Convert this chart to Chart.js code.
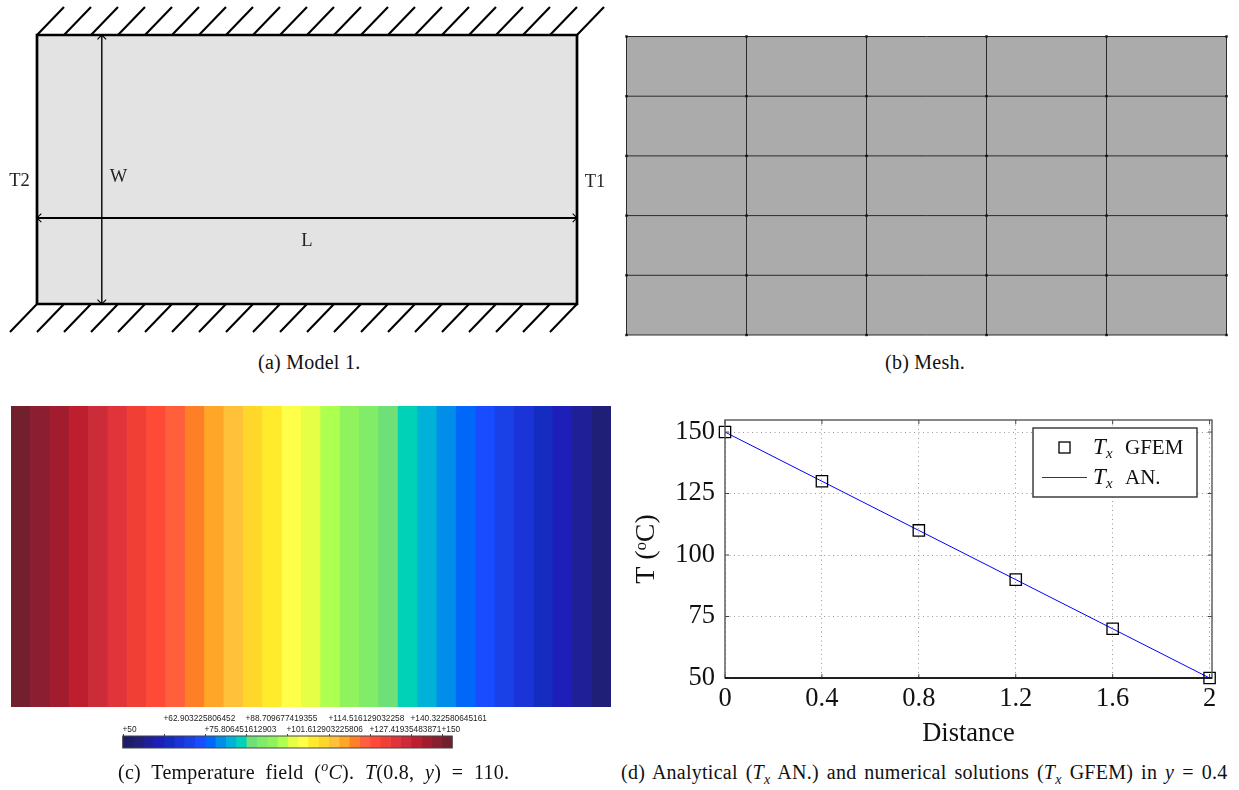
<!DOCTYPE html>
<html><head><meta charset="utf-8">
<script src="https://cdn.jsdelivr.net/npm/chart.js@4"></script>
<style>
html,body{margin:0;padding:0;background:#fff;width:1239px;height:790px;overflow:hidden}
canvas{position:absolute;display:block}
.cap{position:absolute;font-family:"Liberation Serif",serif;font-size:20px;letter-spacing:.25px;color:#111;white-space:nowrap;line-height:22px}
.cap sup,.cap sub{font-size:14px;line-height:0}
</style></head><body>
<canvas id="ca" width="620" height="350" style="left:0;top:0"></canvas>
<canvas id="cb" width="615" height="320" style="left:620px;top:25px"></canvas>
<canvas id="cc" width="600" height="301" style="left:11px;top:406px"></canvas>
<canvas id="cbar" width="400" height="52" style="left:110px;top:700px"></canvas>
<canvas id="cd" width="619" height="350" style="left:620px;top:400px"></canvas>
<div class="cap" style="left:258px;top:351px">(a) Model 1.</div>
<div class="cap" style="left:885px;top:351px">(b) Mesh.</div>
<div class="cap" style="left:118px;top:761px;word-spacing:5.5px">(c) Temperature field (<sup><i>o</i></sup><i>C</i>). <i>T</i>(0.8, <i>y</i>) = 110.</div>
<div class="cap" style="left:621px;top:761px;word-spacing:2.7px">(d) Analytical (<i>T<sub>x</sub></i> AN.) and numerical solutions (<i>T<sub>x</sub></i> GFEM) in <i>y</i> = 0.4</div>
<script>
// ---------- panel (a) model ----------
const modelL = 2, modelW = 1;
const hatchTopX = [0,0.1,0.2,0.3,0.4,0.5,0.6,0.7,0.8,0.9,1,1.1,1.2,1.3,1.4,1.5,1.6,1.7,1.8,1.9,2];
const hatchBottomX = [0,0.1,0.2,0.3,0.4,0.5,0.6,0.7,0.8,0.9,1,1.1,1.2,1.3,1.4,1.5,1.6,1.7,1.8,1.9,2];
const hatchRun = 0.1, hatchRise = 0.104;
const arrowWAt = 0.24, arrowLAt = 0.32;
const modelLabels = ['T2','W','T1','L'];
const modelLabelX = [-0.065,0.302,2.067,1.0];
const modelLabelY = [0.455,0.473,0.452,0.235];
// ---------- panel (b) mesh ----------
const meshX = [0,1,2,3,4,5];
const meshY = [0,1,2,3,4,5];
// ---------- panel (c) temperature field ----------
const bandLow = [50,53.23,56.45,59.68,62.9,66.13,69.35,72.58,75.81,79.03,82.26,85.48,88.71,91.94,95.16,98.39,101.61,104.84,108.06,111.29,114.52,117.74,120.97,124.19,127.42,130.65,133.87,137.1,140.32,143.55,146.77];
const bandHigh = [53.23,56.45,59.68,62.9,66.13,69.35,72.58,75.81,79.03,82.26,85.48,88.71,91.94,95.16,98.39,101.61,104.84,108.06,111.29,114.52,117.74,120.97,124.19,127.42,130.65,133.87,137.1,140.32,143.55,146.77,150];
const bandColors = ['#1f1f78','#1f1f98','#1e1eb8','#142cc0','#1a34d8','#1a40e8','#1a4cff','#0068f8','#008ee8','#00b2d8','#00d2b8','#6fdf78','#80ec68','#90f25c','#adff50','#e4ff45','#ffff4a','#ffeb2b','#ffd72b','#ffc03a','#ffa629','#ff7f27','#ff5f3c','#fe4a36','#f04035','#e0343a','#cc2b38','#bd1f2f','#a11c2e','#8b1e30','#721f2e'];
const barLow = [50,53.23,56.45,59.68,62.9,66.13,69.35,72.58,75.81,79.03,82.26,85.48,88.71,91.94,95.16,98.39,101.61,104.84,108.06,111.29,114.52,117.74,120.97,124.19,127.42,130.65,133.87,137.1,140.32,143.55,146.77,150];
const barHigh = [53.23,56.45,59.68,62.9,66.13,69.35,72.58,75.81,79.03,82.26,85.48,88.71,91.94,95.16,98.39,101.61,104.84,108.06,111.29,114.52,117.74,120.97,124.19,127.42,130.65,133.87,137.1,140.32,143.55,146.77,150,153.23];
const barColors = ['#1c1c68','#1f1f78','#1f1f98','#1e1eb8','#142cc0','#1a34d8','#1a40e8','#1a4cff','#0068f8','#008ee8','#00b2d8','#00d2b8','#6fdf78','#80ec68','#90f25c','#adff50','#e4ff45','#ffff4a','#ffeb2b','#ffd72b','#ffc03a','#ffa629','#ff7f27','#ff5f3c','#fe4a36','#f04035','#e0343a','#cc2b38','#bd1f2f','#a11c2e','#8b1e30','#721f2e'];
const barTickValues = [50,62.903225806452,75.806451612903,88.709677419355,101.612903225806,114.516129032258,127.41935483871,140.322580645161,150];
const barTickLabels = ['+50','+62.903225806452','+75.806451612903','+88.709677419355','+101.612903225806','+114.516129032258','+127.41935483871','+140.322580645161','+150'];
const barTickRow = [1,0,1,0,1,0,1,0,1];
// ---------- panel (d) profile ----------
const distance = [0,0.4,0.8,1.2,1.6,2];
const tempGFEM = [150,130,110,90,70,50];
const tempAN = [150,130,110,90,70,50];
const xTicks = [0,0.4,0.8,1.2,1.6,2];
const yTicks = [50,75,100,125,150];

Chart.defaults.animation = false;
const base = {responsive:false, animation:false, events:[], plugins:{legend:{display:false},tooltip:{enabled:false},title:{display:false}}};
const SER = '"Liberation Serif",serif';
function segs(list){const o=[];list.forEach(s=>{o.push({x:s[0],y:s[1]},{x:s[2],y:s[3]},{x:NaN,y:NaN});});return o;}

// (a)
const lineDs = (data,w,extra)=>Object.assign({data,borderColor:'#000',borderWidth:w,pointRadius:0,showLine:true,clip:false,spanGaps:false,tension:0},extra||{});
const ahx=0.016, ahy=0.016;
new Chart(document.getElementById('ca'),{type:'scatter',
 data:{datasets:[
  lineDs(segs(hatchTopX.map(x=>[x+hatchRun,modelW+hatchRise,x,modelW])),2.1),
  lineDs(segs(hatchBottomX.map(x=>[x,0,x-hatchRun,-hatchRise])),2.1),
  lineDs([{x:0,y:0},{x:modelL,y:0},{x:modelL,y:modelW},{x:0,y:modelW},{x:0,y:0}],2.7),
  lineDs([{x:arrowWAt,y:0},{x:arrowWAt,y:modelW}],1.4),
  lineDs(segs([[arrowWAt-ahx,modelW-ahy,arrowWAt,modelW],[arrowWAt,modelW,arrowWAt+ahx,modelW-ahy],[arrowWAt-ahx,ahy,arrowWAt,0],[arrowWAt,0,arrowWAt+ahx,ahy]]),1.1),
  lineDs([{x:0,y:arrowLAt},{x:modelL,y:arrowLAt}],2),
  lineDs(segs([[ahx,arrowLAt+ahy,0,arrowLAt],[0,arrowLAt,ahx,arrowLAt-ahy],[modelL-ahx,arrowLAt+ahy,modelL,arrowLAt],[modelL,arrowLAt,modelL-ahx,arrowLAt-ahy]]),1.1),
  lineDs([{x:0,y:modelW},{x:modelL,y:modelW}],0,{fill:'origin',backgroundColor:'#e3e3e3',borderColor:'rgba(0,0,0,0)'})
 ]},
 options:Object.assign({},base,{layout:{padding:{left:37,right:43,top:35,bottom:46}},
  scales:{x:{type:'linear',min:0,max:modelL,display:false},y:{type:'linear',min:0,max:modelW,display:false}}}),
 plugins:[{id:'modelText',afterDraw(c){const g=c.ctx;g.save();g.font='18.5px '+SER;g.fillStyle='#222';g.textAlign='center';g.textBaseline='middle';
  modelLabels.forEach((t,i)=>g.fillText(t,c.scales.x.getPixelForValue(modelLabelX[i]),c.scales.y.getPixelForValue(modelLabelY[i])));g.restore();}}]
});

// (b)
const meshLines=[];meshX.forEach(x=>meshLines.push([x,0,x,5]));
const meshLinesH=[];meshY.forEach(y=>meshLinesH.push([0,y,5,y]));
const nodes=[];meshX.forEach(x=>meshY.forEach(y=>nodes.push({x,y})));
new Chart(document.getElementById('cb'),{type:'scatter',
 data:{datasets:[
  {data:nodes,pointStyle:'rect',pointRadius:1.7,pointBackgroundColor:'#111',pointBorderWidth:0,showLine:false,clip:false},
  lineDs(segs(meshLines),1,{borderColor:'#2c2c2c'}),
  lineDs(segs(meshLinesH),1,{borderColor:'#2c2c2c'}),
  lineDs([{x:0,y:5},{x:5,y:5}],0,{fill:'origin',backgroundColor:'#ababab',borderColor:'rgba(0,0,0,0)'})
 ]},
 options:Object.assign({},base,{layout:{padding:{left:6.5,right:8.5,top:11.5,bottom:10}},
  scales:{x:{type:'linear',min:0,max:5,display:false},y:{type:'linear',min:0,max:5,display:false}}})
});

// (c) field + colour bar
const bandDs=(lo,hi,col)=>lo.map((v,i)=>({data:[[v,hi[i]]],backgroundColor:col[i],grouped:false,borderWidth:0,barPercentage:1,categoryPercentage:1,borderSkipped:false}));
new Chart(document.getElementById('cc'),{type:'bar',
 data:{labels:['T'],datasets:bandDs(bandLow,bandHigh,bandColors)},
 options:Object.assign({},base,{indexAxis:'y',layout:{padding:0},
  scales:{x:{type:'linear',min:50,max:150,reverse:true,display:false},y:{display:false}}})
});
new Chart(document.getElementById('cbar'),{type:'bar',
 data:{labels:['T'],datasets:bandDs(barLow,barHigh,barColors)},
 options:Object.assign({},base,{indexAxis:'y',layout:{padding:{left:12.7,right:57.7,top:36,bottom:4}},
  scales:{x:{type:'linear',min:50,max:153.23,display:false},y:{display:false}}}),
 plugins:[{id:'barTicks',afterDraw(c){const g=c.ctx,a=c.chartArea;g.save();g.strokeStyle='#444';g.lineWidth=1;
   g.strokeRect(a.left,a.top,a.right-a.left,a.bottom-a.top);
   g.font='8.3px "Liberation Sans",sans-serif';g.fillStyle='#222';g.textAlign='left';g.textBaseline='middle';
   barTickValues.forEach((v,i)=>{const px=Math.round(c.scales.x.getPixelForValue(v))+0.5;
     g.beginPath();g.moveTo(px,a.top);g.lineTo(px,a.top-2);g.stroke();
     g.fillText(barTickLabels[i],px-1,barTickRow[i]?30:18.5);});g.restore();}}]
});

// (d)
const pts=(xs,ys)=>xs.map((x,i)=>({x,y:ys[i]}));
new Chart(document.getElementById('cd'),{type:'scatter',
 data:{datasets:[
  {label:'Tx GFEM',data:pts(distance,tempGFEM),pointStyle:'rect',pointRadius:8,pointBorderWidth:1.3,pointBorderColor:'#000',pointBackgroundColor:'rgba(0,0,0,0)',showLine:false,clip:false},
  {label:'Tx AN.',data:pts(distance,tempAN),borderColor:'#0000ff',borderWidth:1,pointRadius:0,showLine:true,clip:false}
 ]},
 options:Object.assign({},base,{layout:{padding:{left:0,right:27,top:20,bottom:0}},
  scales:{
   x:{type:'linear',min:0,max:2.01,afterBuildTicks(s){s.ticks=xTicks.map(v=>({value:v}));},afterFit(s){s.height=72;s.paddingLeft=0;s.paddingRight=0;},
      grid:{color:'#999',lineWidth:1,drawTicks:false},border:{display:false,dash:[1,3.5]},
      ticks:{color:'#111',padding:5,maxRotation:0,font:{family:SER,size:26.5},callback:v=>String(v)},
      title:{display:true,text:'Distance',color:'#111',font:{family:SER,size:26.5},padding:{top:4,bottom:0}}},
   y:{type:'linear',min:50,max:154.9,afterBuildTicks(s){s.ticks=yTicks.map(v=>({value:v}));},afterFit(s){s.width=105;s.paddingTop=0;s.paddingBottom=0;},
      grid:{color:'#999',lineWidth:1,drawTicks:false},border:{display:false,dash:[1,3.5]},
      ticks:{color:'#111',padding:10,font:{family:SER,size:26.5},callback:v=>String(v)},
      title:{display:true,text:'T (ᵒC)',color:'#111',font:{family:SER,size:28},padding:{top:10,bottom:0}}}
  }}),
 plugins:[{id:'frame',afterDatasetsDraw(c){const g=c.ctx,a=c.chartArea,sx=c.scales.x,sy=c.scales.y;g.save();g.lineWidth=1;g.strokeStyle='#444';
    xTicks.forEach(v=>{const p=sx.getPixelForValue(v);g.beginPath();g.moveTo(p,a.bottom);g.lineTo(p,a.bottom-4);g.moveTo(p,a.top);g.lineTo(p,a.top+4);g.stroke();});
    yTicks.forEach(v=>{const p=sy.getPixelForValue(v);g.beginPath();g.moveTo(a.left,p);g.lineTo(a.left+4,p);g.moveTo(a.right,p);g.lineTo(a.right-4,p);g.stroke();});
    g.lineWidth=1.4;g.strokeStyle='#555';g.strokeRect(a.left,a.top,a.right-a.left,a.bottom-a.top);
    g.strokeStyle='#000';g.beginPath();g.moveTo(a.left,a.bottom);g.lineTo(a.right,a.bottom);g.stroke();
    g.restore();},
  afterDraw(c){const g=c.ctx;g.save();
    const bx=413,by=28,bw=164,bh=69;g.fillStyle='#fff';g.fillRect(bx,by,bw,bh);g.lineWidth=1.4;g.strokeStyle='#333';g.strokeRect(bx,by,bw,bh);
    g.lineWidth=1.3;g.strokeStyle='#000';g.strokeRect(439,42,11,11);
    g.strokeStyle='#2020ff';g.lineWidth=1.2;g.beginPath();g.moveTo(422,77.5);g.lineTo(467,77.5);g.stroke();
    g.fillStyle='#111';g.textBaseline='alphabetic';g.textAlign='left';
    [['GFEM',54],['AN.',84]].forEach(r=>{g.font='italic 23px '+SER;g.fillText('T',473,r[1]);g.font='italic 15px '+SER;g.fillText('x',486,r[1]+4);g.font='21px '+SER;g.fillText(r[0],505,r[1]);});
    g.restore();}}]
});
</script>
</body></html>
